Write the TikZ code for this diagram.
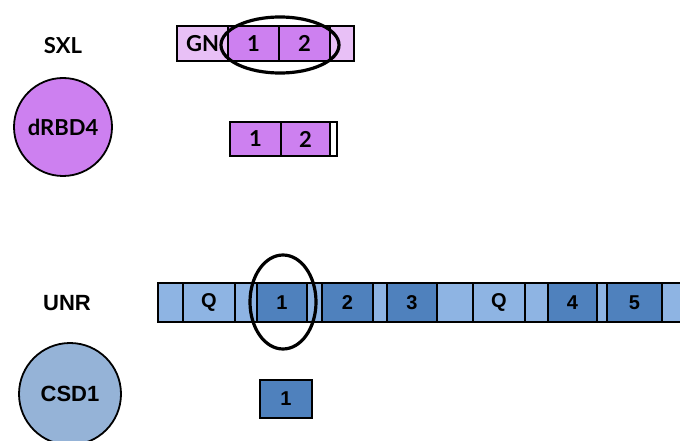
\documentclass[tikz,border=0pt]{standalone}
\usepackage{fontspec}
\newfontfamily\topfont{Lato}
\newfontfamily\botfont{Liberation Sans}
\usetikzlibrary{shapes.geometric}
\definecolor{pdark}{RGB}{205,128,240}
\definecolor{plight}{RGB}{232,192,246}
\definecolor{bdark}{RGB}{79,129,189}
\definecolor{blight}{RGB}{142,180,227}
\definecolor{bcirc}{RGB}{149,179,215}
\begin{document}
\begin{tikzpicture}[x=1pt,y=-1pt,
  seg/.style={draw=black, line width=1.8pt, inner sep=0pt, rectangle},
  pd/.style={seg, fill=pdark, font=\topfont\bfseries\fontsize{22}{22}\selectfont},
  pl/.style={seg, fill=plight, font=\topfont\bfseries\fontsize{22}{22}\selectfont},
  bd/.style={seg, fill=bdark, font=\botfont\bfseries\fontsize{20}{20}\selectfont},
  bl/.style={seg, fill=blight, font=\botfont\bfseries\fontsize{20}{20}\selectfont},
  ring/.style={draw=black, line width=3.2pt, ellipse, inner sep=0pt},
  lbltop/.style={font=\topfont\bfseries\fontsize{22}{22}\selectfont},
  lblbot/.style={font=\botfont\bfseries\fontsize{22}{22}\selectfont}]
\useasboundingbox (0,0) rectangle (680,441);
% SXL
\node[lbltop] (sxl) at (63,46) {SXL};
\node[circle, draw=black, line width=1.8pt, fill=pdark, minimum size=98pt, inner sep=0pt, lbltop] (drbd) at (63,127) {dRBD4};
% top bar
\node[pl, minimum width=51pt, minimum height=35pt] (gn) at (202.5,43.5) {GN};
\node[pd, minimum width=51pt, minimum height=35pt] (a1) at (253.5,43.5) {1};
\node[pd, minimum width=51pt, minimum height=35pt] (a2) at (304.5,43.5) {2};
\node[pl, minimum width=24pt, minimum height=35pt] (at) at (342,43.5) {};
\node[ring, minimum width=118pt, minimum height=56pt] (e1) at (280,45) {};
% second bar
\node[pd, minimum width=51pt, minimum height=34pt] (b1) at (255.5,139) {1};
\node[pd, minimum width=49pt, minimum height=34pt] (b2) at (305.5,139) {2};
\node[seg, fill=white, minimum width=7pt, minimum height=34pt] (bt) at (333.5,139) {};
% UNR
\node[lblbot] (unr) at (67,303) {UNR};
\node[circle, draw=black, line width=1.8pt, fill=bcirc, minimum size=102pt, inner sep=0pt, lblbot] (csd) at (70,394) {CSD1};
% long bar
\node[bl, minimum width=540pt, minimum height=39pt] (bar) at (428,302.5) {};
\node[bl, minimum width=52pt, minimum height=39pt] (q1) at (209,302.5) {Q};
\node[bd, minimum width=50pt, minimum height=39pt] (c1) at (282,302.5) {1};
\node[bd, minimum width=51pt, minimum height=39pt] (c2) at (347.5,302.5) {2};
\node[bd, minimum width=50pt, minimum height=39pt] (c3) at (412,302.5) {3};
\node[bl, minimum width=52pt, minimum height=39pt] (q2) at (499,302.5) {Q};
\node[bd, minimum width=49pt, minimum height=39pt] (c4) at (572.5,302.5) {4};
\node[bd, minimum width=55pt, minimum height=39pt] (c5) at (634.5,302.5) {5};
\node[ring, minimum width=66pt, minimum height=94pt] (e2) at (283,302) {};
% small box
\node[bd, minimum width=52pt, minimum height=38pt] (d1) at (286,399) {1};
\end{tikzpicture}
\end{document}
